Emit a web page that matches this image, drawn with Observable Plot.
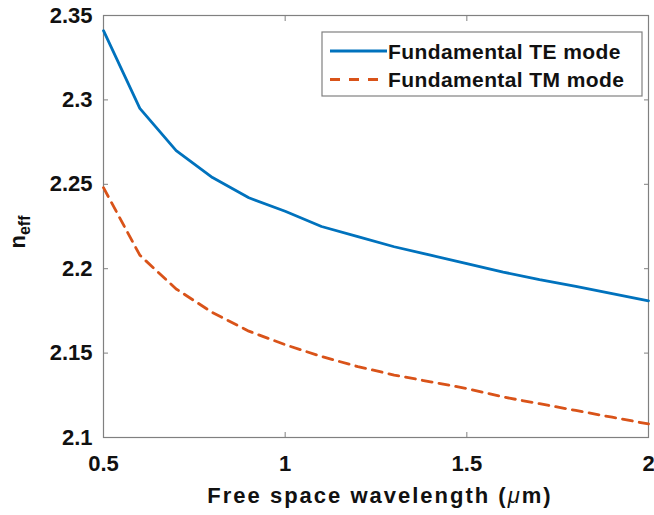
<!DOCTYPE html>
<html>
<head>
<meta charset="utf-8">
<script src="https://cdn.jsdelivr.net/npm/d3@7"></script>
<script src="https://cdn.jsdelivr.net/npm/@observablehq/plot@0.6"></script>
<style>
  html, body { margin: 0; padding: 0; background: #fff; }
  #chart { position: relative; width: 654px; height: 515px; }
  svg { font-family: "Liberation Sans", Arial, sans-serif; }
</style>
</head>
<body>
<div id="chart"></div>
<script>
const wavelength = [0.5, 0.6, 0.7, 0.8, 0.9, 1.0, 1.1, 1.2, 1.3, 1.4, 1.5, 1.6, 1.7, 1.8, 1.9, 2.0];
const teValues = [2.341, 2.295, 2.270, 2.254, 2.242, 2.234, 2.225, 2.219, 2.213, 2.208, 2.203, 2.198, 2.1935, 2.1895, 2.1853, 2.181];
const tmValues = [2.248, 2.208, 2.188, 2.174, 2.163, 2.155, 2.148, 2.142, 2.137, 2.133, 2.129, 2.124, 2.120, 2.116, 2.112, 2.108];
const seriesNames = ["Fundamental TE mode", "Fundamental TM mode"];
const xTicks = [0.5, 1, 1.5, 2];
const yTicks = [2.1, 2.15, 2.2, 2.25, 2.3, 2.35];
const xLabel = "Free space wavelength (";
const yLabelMain = "n";
const yLabelSub = "eff";

const te = wavelength.map((x, i) => ({x, y: teValues[i]}));
const tm = wavelength.map((x, i) => ({x, y: tmValues[i]}));

const blue = "#0072BD", orange = "#D95319", axisGray = "#808080";

const plot = Plot.plot({
  width: 654,
  height: 515,
  marginLeft: 103,
  marginRight: 6,
  marginTop: 15,
  marginBottom: 78,
  style: {fontFamily: "Liberation Sans, Arial, sans-serif", background: "white"},
  x: {domain: [0.5, 2]},
  y: {domain: [2.1, 2.35]},
  marks: [
    Plot.frame({stroke: axisGray, strokeWidth: 1.2}),
    Plot.axisX({ticks: xTicks, tickFormat: d => String(d), tickSize: -5, tickPadding: 23, stroke: axisGray, fill: "#111", fontSize: 22, fontWeight: "bold", label: null}),
    Plot.axisX({anchor: "top", ticks: xTicks, tickSize: -5, tickFormat: () => "", stroke: axisGray, label: null}),
    Plot.axisY({ticks: yTicks, tickFormat: d => String(d), tickSize: -5, tickPadding: 16, stroke: axisGray, fill: "#111", fontSize: 22, fontWeight: "bold", label: null}),
    Plot.axisY({anchor: "right", ticks: yTicks, tickSize: -5, tickFormat: () => "", stroke: axisGray, label: null}),
    Plot.line(te, {x: "x", y: "y", stroke: blue, strokeWidth: 2.8}),
    Plot.line(tm, {x: "x", y: "y", stroke: orange, strokeWidth: 2.8, strokeDasharray: "10,7"})
  ]
});
document.getElementById("chart").appendChild(plot);

const svg = d3.select(plot);
// x label
const xl = svg.append("text")
  .attr("x", 380).attr("y", 503)
  .attr("text-anchor", "middle")
  .attr("letter-spacing", 2)
  .attr("font-size", 22).attr("font-weight", "bold").attr("fill", "#111");
xl.append("tspan").text(xLabel);
xl.append("tspan").attr("font-style", "italic").attr("font-weight", "normal").text("\u03bc");
xl.append("tspan").text("m)");

// y label
const yl = svg.append("text")
  .attr("transform", "translate(25,232) rotate(-90)")
  .attr("text-anchor", "middle")
  .attr("font-size", 22).attr("font-weight", "bold").attr("fill", "#111");
yl.append("tspan").text(yLabelMain);
yl.append("tspan").attr("font-size", 16).attr("dy", 5).text(yLabelSub);

// legend
const lg = svg.append("g").attr("transform", "translate(322,32)");
lg.append("rect").attr("width", 320).attr("height", 64)
  .attr("fill", "white").attr("stroke", axisGray).attr("stroke-width", 1.2);
const colors = [blue, orange];
const dashes = [null, "10,9"];
seriesNames.forEach((name, i) => {
  const cy = 19 + i * 28.5;
  lg.append("line").attr("x1", 8).attr("x2", 65).attr("y1", cy).attr("y2", cy)
    .attr("stroke", colors[i]).attr("stroke-width", 2.8)
    .attr("stroke-dasharray", dashes[i]);
  lg.append("text").attr("x", 66).attr("y", cy).attr("dy", "0.36em")
    .attr("text-anchor", "start")
    .attr("letter-spacing", 0.4)
    .attr("font-size", 21).attr("font-weight", "bold").attr("fill", "#111")
    .text(name);
});
</script>
</body>
</html>
